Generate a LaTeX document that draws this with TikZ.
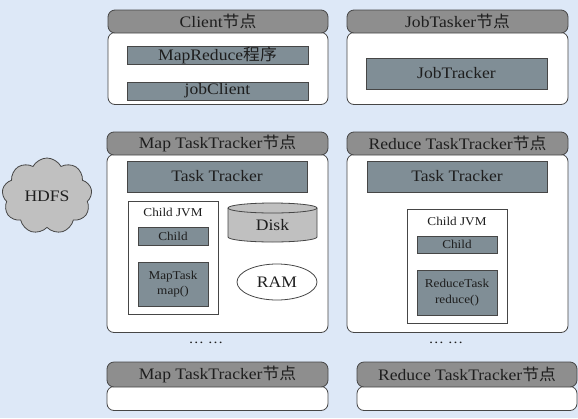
\documentclass[tikz,border=0pt]{standalone}
\usepackage{fontspec}
\setmainfont{Liberation Serif}[FakeStretch=1.1]
\newfontfamily\cjk{Noto Sans CJK SC}[FakeStretch=1.05]
\usetikzlibrary{shapes.symbols,shapes.geometric}
\definecolor{bg}{RGB}{221,232,247}
\definecolor{hdr}{RGB}{142,142,142}
\definecolor{slate}{RGB}{128,142,150}
\definecolor{lgray}{RGB}{192,192,192}
\definecolor{edge}{RGB}{70,70,70}
\definecolor{ink}{RGB}{30,30,30}
\newcommand{\jd}{{\cjk 节点}}
\begin{document}
\begin{tikzpicture}[x=1pt,y=-1pt,
  every node/.style={text=ink},
  hdrbox/.style={draw=edge, fill=hdr, rounded corners=7pt, line width=0.8pt, inner sep=0pt, font=\fontsize{16}{16}\selectfont},
  bodybox/.style={draw=edge, fill=white, rounded corners=7pt, line width=0.8pt, inner sep=0pt},
  slatebox/.style={draw=edge, fill=slate, line width=0.7pt, inner sep=0pt, font=\fontsize{16}{16}\selectfont},
  smallbox/.style={slatebox, font=\fontsize{12}{15.5}\selectfont, align=center},
  jvmbox/.style={draw=edge, fill=white, line width=0.7pt, inner sep=0pt},
  jvmlabel/.style={font=\fontsize{12}{14}\selectfont, inner sep=0pt},
  plainlabel/.style={font=\fontsize{16}{16}\selectfont, inner sep=0pt},
  dotslabel/.style={font=\fontsize{14}{14}\selectfont, inner sep=0pt, anchor=base}
]
\useasboundingbox (0,0) rectangle (578,418);
\fill[bg] (0,0) rectangle (578,418);

% Client node
\node[bodybox, minimum width=220pt, minimum height=72pt] (clientbody) at (218,68.5) {};
\node[hdrbox, minimum width=220pt, minimum height=23pt] (clienthdr) at (218,21.5) {Client\jd};
\node[slatebox, minimum width=181pt, minimum height=18pt] (mrprog) at (217.5,55) {MapReduce{\cjk 程序}};
\node[slatebox, minimum width=181pt, minimum height=18pt] (jobclient) at (217.5,91) {jobClient};

% JobTasker node
\node[bodybox, minimum width=221pt, minimum height=72pt] (jtbody) at (457.5,68.5) {};
\node[hdrbox, minimum width=221pt, minimum height=23pt] (jthdr) at (457.5,21.5) {JobTasker\jd};
\node[slatebox, minimum width=181pt, minimum height=31pt] (jobtracker) at (456.5,73.5) {JobTracker};

% HDFS
\node[cloud, cloud puffs=9, cloud puff arc=125, aspect=1.25, draw=edge, fill=lgray, line width=0.8pt, minimum width=90pt, minimum height=76pt, inner sep=0pt, font=\fontsize{16}{16}\selectfont] (hdfs) at (47,196) {HDFS};

% Map TaskTracker node
\node[bodybox, minimum width=221pt, minimum height=178pt] (mapbody) at (217.5,243.5) {};
\node[hdrbox, minimum width=221pt, minimum height=23pt] (maphdr) at (217.5,143.5) {Map TaskTracker\jd};
\node[slatebox, minimum width=180pt, minimum height=31pt] (maptt) at (217,176.5) {Task Tracker};
\node[jvmbox, minimum width=90pt, minimum height=113pt] (mapjvm) at (173,257.5) {};
\node[jvmlabel] (mapjvmlbl) at (173,212) {Child JVM};
\node[smallbox, minimum width=70pt, minimum height=18pt] (mapchild) at (173,236) {Child};
\node[smallbox, minimum width=70pt, minimum height=44pt] (maptask) at (173,284) {MapTask\\map()};
\path[draw=edge, fill=lgray, line width=0.8pt] (228,208) -- (228,237)
  arc[start angle=180, end angle=360, x radius=44.5pt, y radius=5pt] -- (317,208)
  arc[start angle=0, end angle=180, x radius=44.5pt, y radius=5pt] -- cycle;
\draw[edge, line width=0.8pt] (228,208) arc[start angle=180, end angle=360, x radius=44.5pt, y radius=5pt];
\node[plainlabel] (disk) at (272.5,225) {Disk};
\node[ellipse, draw=edge, fill=white, line width=0.8pt, minimum width=80pt, minimum height=36pt, inner sep=0pt, font=\fontsize{16}{16}\selectfont] (ram) at (277,282) {RAM};

% Reduce TaskTracker node
\node[bodybox, minimum width=221pt, minimum height=178pt] (redbody) at (457.5,243.5) {};
\node[hdrbox, minimum width=221pt, minimum height=23pt] (redhdr) at (457.5,143.5) {Reduce TaskTracker\jd};
\node[slatebox, minimum width=180pt, minimum height=31pt] (redtt) at (457,176.5) {Task Tracker};
\node[jvmbox, minimum width=100pt, minimum height=114pt] (redjvm) at (457,266) {};
\node[jvmlabel] (redjvmlbl) at (457,221) {Child JVM};
\node[smallbox, minimum width=80pt, minimum height=17pt] (redchild) at (457,244.5) {Child};
\node[smallbox, minimum width=80pt, minimum height=45pt] (redtask) at (457,292.5) {ReduceTask\\reduce()};

% dots
\node[dotslabel] (mapdots) at (206,343) {… …};
\node[dotslabel] (reddots) at (446,343) {… …};

% bottom nodes
\node[bodybox, minimum width=221pt, minimum height=24pt] (map2body) at (217.5,398.5) {};
\node[hdrbox, minimum width=221pt, minimum height=25pt] (map2hdr) at (217.5,374.5) {Map TaskTracker\jd};
\node[bodybox, minimum width=220pt, minimum height=24pt] (red2body) at (467,398.5) {};
\node[hdrbox, minimum width=220pt, minimum height=25pt] (red2hdr) at (467,374.5) {Reduce TaskTracker\jd};
\end{tikzpicture}
\end{document}
